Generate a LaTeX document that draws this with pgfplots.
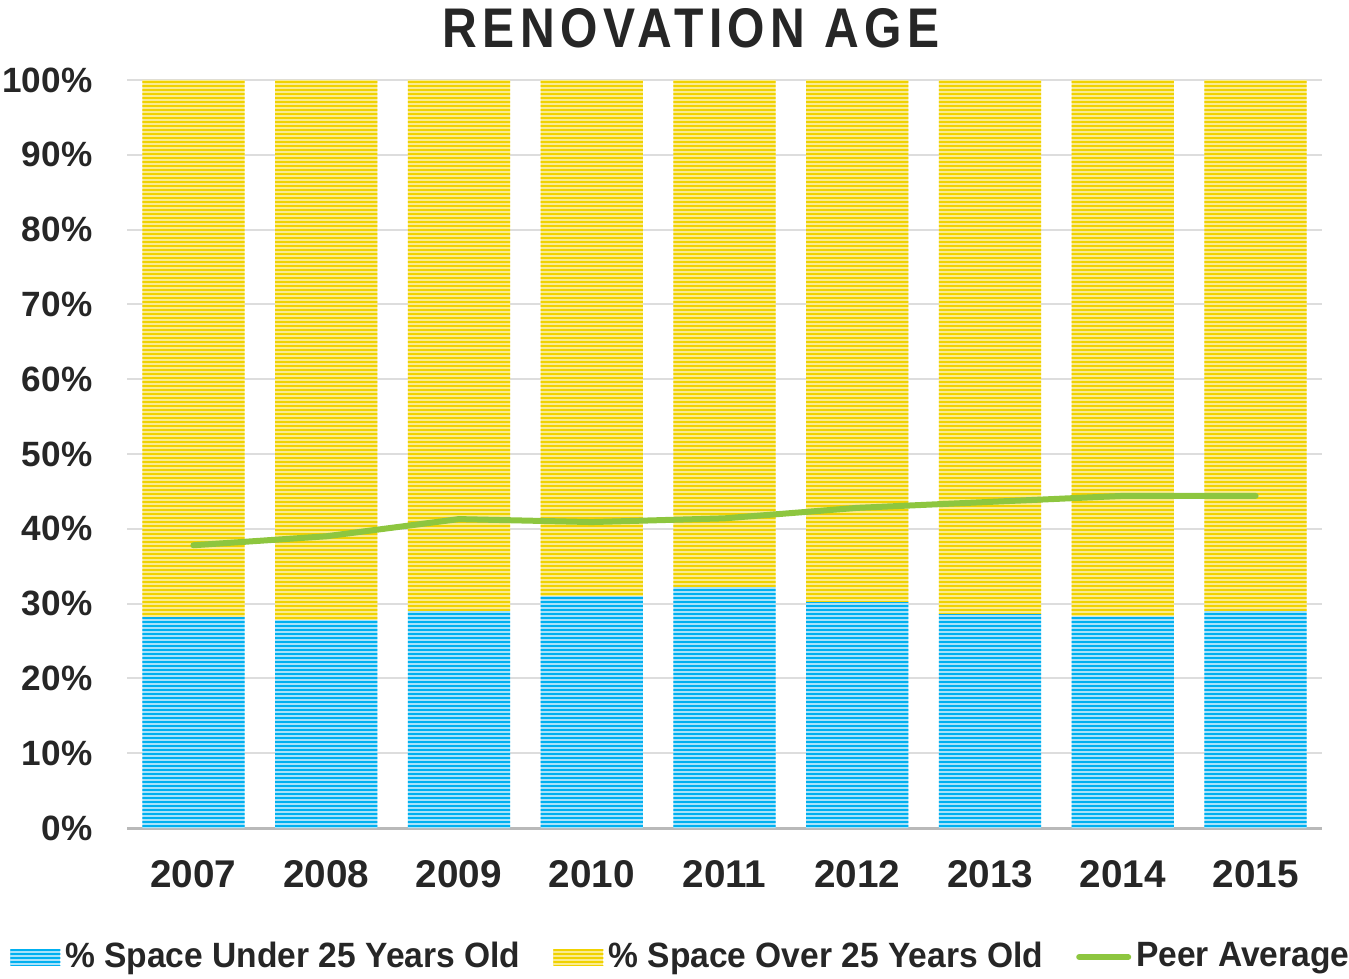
\documentclass[border=0pt]{standalone}
\usepackage{fontspec}
\setmainfont{Liberation Sans}
\newfontfamily\titlefont{Liberation Sans}[FakeStretch=0.86,LetterSpace=10]
\newfontfamily\legfont{Liberation Sans}[FakeStretch=0.955]
\usepackage{pgfplots}
\pgfplotsset{compat=1.18}
\usetikzlibrary{patterns.meta}
\definecolor{cblue}{HTML}{00B0F0}
\definecolor{cbluel}{HTML}{A8E2FA}
\definecolor{cyel}{HTML}{F0D200}
\definecolor{cyell}{HTML}{FAEB90}
\definecolor{cgreen}{HTML}{8DC63F}
\definecolor{cgrid}{HTML}{DDDDDD}
\definecolor{ctext}{HTML}{262626}
\pgfplotstableread{
x under over peer
0 28.2 71.8 37.8
1 27.8 72.2 39.0
2 29.0 71.0 41.3
3 31.0 69.0 40.9
4 32.2 67.8 41.4
5 30.2 69.8 42.8
6 28.6 71.4 43.6
7 28.3 71.7 44.4
8 29.0 71.0 44.4
}\datatable
\tikzset{
 bluebar/.style={draw=none, fill=cbluel, postaction={pattern={Lines[angle=0,distance=0.4mm,line width=0.22mm]}, pattern color=cblue}},
 yelbar/.style={draw=none, fill=cyell, postaction={pattern={Lines[angle=0,distance=0.4mm,line width=0.22mm]}, pattern color=cyel}},
}
\pgfplotsset{
 common/.style={
  width=119.5mm, height=74.8mm, scale only axis,
  xmin=-0.5, xmax=8.5, ymin=0, ymax=100,
 },
}
\begin{document}
\begin{tikzpicture}
\begin{axis}[common,
  ybar stacked, bar width=0.77,
  ytick={0,10,...,100},
  xtick={0,...,8},
  xticklabels={2007,2008,2009,2010,2011,2012,2013,2014,2015},
  ymajorgrids, grid style={cgrid, line width=0.2mm},
  major tick length=0,
  axis x line*=bottom, axis y line*=left,
  x axis line style={draw=gray!55, line width=0.3mm, -},
  y axis line style={draw=none},
  /pgf/number format/assume math mode=true,
  yticklabel={\pgfmathprintnumber{\tick}\%},
  yticklabel style={font=\fontsize{10}{12}\selectfont\bfseries, text=ctext, anchor=east, inner xsep=0pt, xshift=-3.4mm},
  xticklabel style={font=\fontsize{11}{13}\selectfont\bfseries, text=ctext, anchor=base, yshift=-5.9mm},
  title={\titlefont\bfseries RENOVATION AGE},
  title style={font=\fontsize{15.9}{18}\selectfont, text=ctext, at={(axis description cs:0.472,1)}, anchor=base, yshift=1.19mm},
]
\addplot[bluebar] table[x=x,y=under]{\datatable};
\addplot[yelbar] table[x=x,y=over]{\datatable};
\end{axis}
\begin{axis}[common,
  axis lines=none, ticks=none,
  legend columns=3,
  legend style={at={(axis description cs:0.4648,-0.1725)}, anchor=center, draw=none, fill=none,
    font=\legfont\fontsize{10}{12}\selectfont\bfseries, text=ctext,
    /tikz/every even column/.append style={column sep=2.8mm},
    nodes={inner xsep=0.5mm}},
]
\addlegendimage{legend image code/.code={
  \path[fill=cbluel, draw=none] (0mm,-0.8mm) rectangle (5.0mm,0.8mm);
  \path[draw=none, pattern={Lines[angle=0,distance=0.4mm,line width=0.22mm]}, pattern color=cblue] (0mm,-0.8mm) rectangle (5.0mm,0.8mm);}}
\addlegendentry{\% Space Under 25 Years Old}
\addlegendimage{legend image code/.code={
  \path[fill=cyell, draw=none] (0mm,-0.8mm) rectangle (5.0mm,0.8mm);
  \path[draw=none, pattern={Lines[angle=0,distance=0.4mm,line width=0.22mm]}, pattern color=cyel] (0mm,-0.8mm) rectangle (5.0mm,0.8mm);}}
\addlegendentry{\% Space Over 25 Years Old}
\addplot[cgreen, line width=0.6mm, line cap=round, line join=round, sharp plot,
  legend image code/.code={\draw[cgreen, line width=0.6mm, line cap=round] (0.3mm,0mm) -- (5.2mm,0mm);}]
  table[x=x,y=peer]{\datatable};
\addlegendentry[xshift=-0.3mm]{Peer Average}
\end{axis}
\pgfresetboundingbox
\path (-12.7mm,-15mm) rectangle (122.2mm,82.8mm);
\end{tikzpicture}
\end{document}
